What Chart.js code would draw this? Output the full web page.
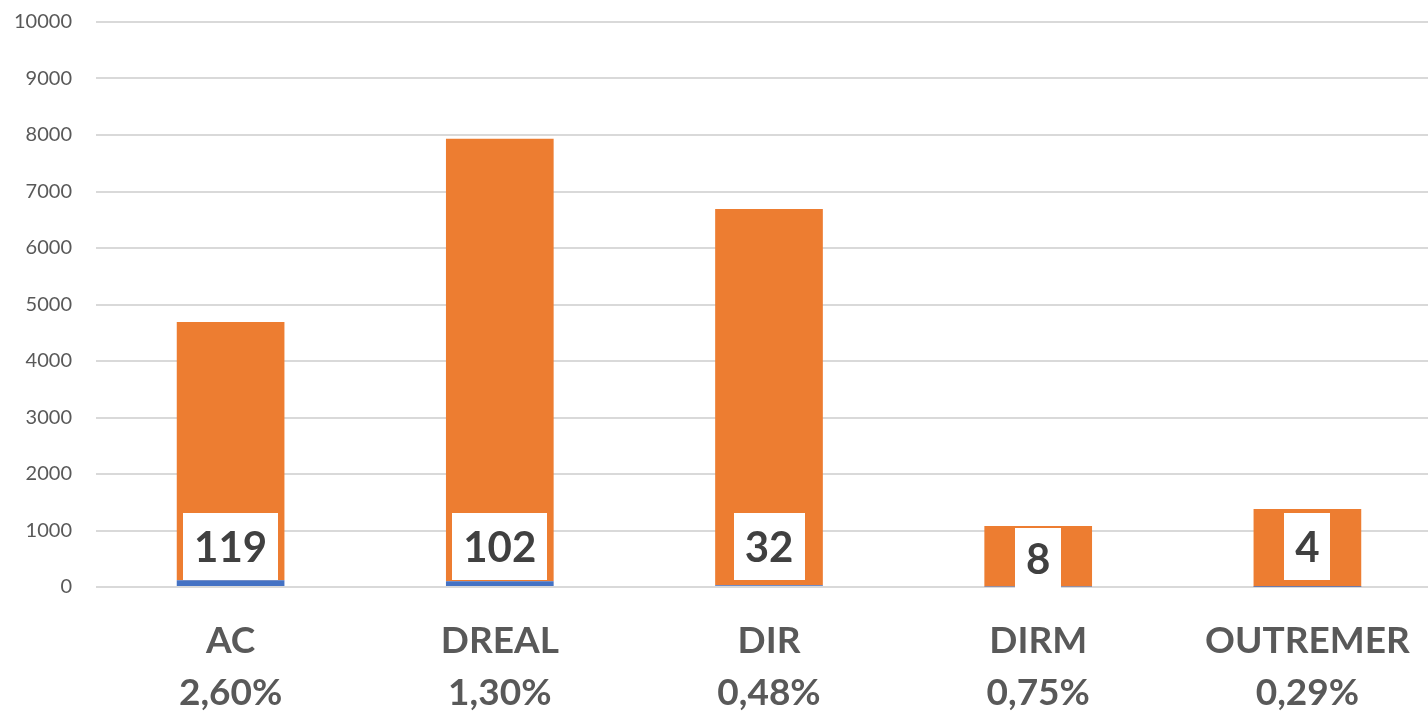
<!DOCTYPE html>
<html>
<head>
<meta charset="utf-8">
<script src="https://cdn.jsdelivr.net/npm/chart.js@4"></script>
<style>
html,body{margin:0;padding:0;background:#fff;overflow:hidden;}
#wrap{width:1442px;height:713px;}
</style>
</head>
<body>
<div id="wrap"><canvas id="c" width="1442" height="713"></canvas></div>
<script>
const categories = ['AC', 'DREAL', 'DIR', 'DIRM', 'OUTREMER'];
const percentLabels = ['2,60%', '1,30%', '0,48%', '0,75%', '0,29%'];
const blueValues = [119, 102, 32, 8, 4];
const orangeValues = [4570, 7830, 6660, 1072, 1376];
const yTicks = [0, 1000, 2000, 3000, 4000, 5000, 6000, 7000, 8000, 9000, 10000];

const labelBoxes = {
  id: 'labelBoxes',
  afterDatasetsDraw(chart, args, opts) {
    const ctx = chart.ctx;
    const meta = chart.getDatasetMeta(0);
    const y0 = chart.scales.y.getPixelForValue(0);
    ctx.save();
    ctx.font = 'bold 42px Lato';
    ctx.textAlign = 'center';
    ctx.textBaseline = 'middle';
    blueValues.forEach((v, i) => {
      const x = meta.data[i].x;
      const txt = String(v);
      const w = ctx.measureText(txt).width + 22;
      const bottom = y0 - opts.lift[i];
      const h = opts.heights[i];
      ctx.fillStyle = '#ffffff';
      ctx.fillRect(Math.round(x - w / 2), Math.round(bottom - h), Math.round(w), h);
      ctx.fillStyle = '#404040';
      ctx.fillText(txt, x, bottom - h / 2 + 2);
    });
    ctx.restore();
  }
};

new Chart(document.getElementById('c'), {
  type: 'bar',
  data: {
    labels: categories.map((c, i) => [c, percentLabels[i]]),
    datasets: [
      { data: blueValues, backgroundColor: '#4472C4', borderWidth: 0 },
      { data: orangeValues, backgroundColor: '#ED7D31', borderWidth: 0 }
    ]
  },
  options: {
    responsive: false,
    animation: false,
    events: [],
    layout: { padding: { top: 0, right: 0, left: 0, bottom: 0 } },
    plugins: {
      legend: { display: false },
      tooltip: { enabled: false },
      labelBoxes: { lift: [7, 7, 7, -1, 7], heights: [67, 67, 67, 60, 67] }
    },
    datasets: { bar: { categoryPercentage: 1, barPercentage: 0.4 } },
    scales: {
      x: {
        stacked: true,
        grid: { display: false, drawTicks: false },
        border: { display: false },
        ticks: {
          color: '#595959',
          font: { family: 'Lato', size: 37, weight: 'bold', lineHeight: 1.38 },
          padding: 29,
          maxRotation: 0,
          autoSkip: false
        },
        afterFit(s) { s.height = 126; }
      },
      y: {
        stacked: true,
        min: 0,
        max: 10000,
        afterBuildTicks(s) { s.ticks = yTicks.map(v => ({ value: v })); },
        grid: { color: '#d9d9d9', lineWidth: 2, drawTicks: false },
        border: { display: false },
        ticks: {
          color: '#595959',
          font: { family: 'Lato', size: 20 },
          padding: 24,
          callback: v => String(v)
        },
        afterFit(s) { s.width = 96; s.paddingTop = 22; }
      }
    }
  },
  plugins: [labelBoxes]
});
</script>
</body>
</html>
